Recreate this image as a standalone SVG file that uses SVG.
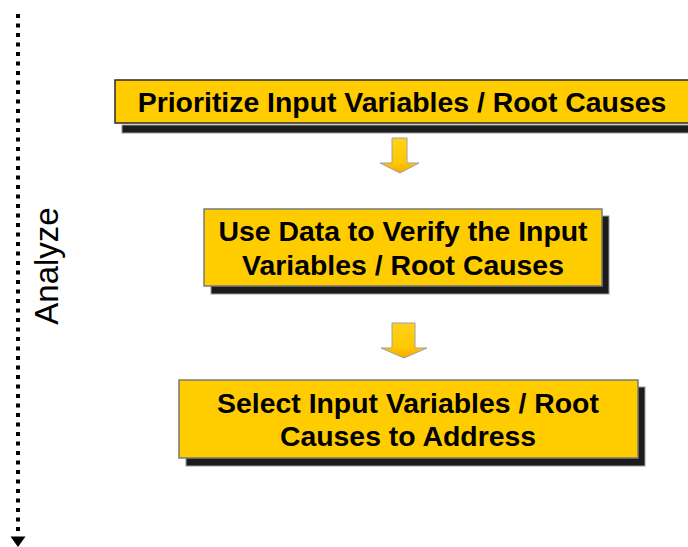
<svg xmlns="http://www.w3.org/2000/svg" width="688" height="547" viewBox="0 0 688 547">
  <defs>
    <linearGradient id="arrowFill" x1="0" y1="0" x2="0" y2="1">
      <stop offset="0" stop-color="#FFD21A"/>
      <stop offset="0.7" stop-color="#FFC800"/>
      <stop offset="1" stop-color="#F5A800"/>
    </linearGradient>
  </defs>
  <style>
    .shadow { fill: #1c1c1c; stroke: #9a9a9a; stroke-width: 1; }
    .box { fill: #FFCC00; stroke: #7a7a7a; stroke-width: 1.5; }
    .box1 { stroke: #2a2a2a; }
    .label { font-family: "Liberation Sans", Arial, sans-serif; font-weight: bold; font-size: 28.4px; fill: #000; text-anchor: middle; }
    .step { fill: url(#arrowFill); stroke: #a0a0a0; stroke-width: 1; }
    .phase { font-family: "Liberation Sans", Arial, sans-serif; font-size: 33px; fill: #000; text-anchor: middle; }
  </style>

  <rect width="688" height="547" fill="#fff"/>

  <!-- phase timeline -->
  <g id="timeline">
    <line x1="18" y1="14" x2="18" y2="532" stroke="#000" stroke-width="4" stroke-dasharray="4,5.5"/>
    <path d="M10.5,536.5 L25.5,536.5 L18,547 Z" fill="#000"/>
    <text class="phase" transform="translate(58,266) rotate(-90)">Analyze</text>
  </g>

  <!-- step 1 -->
  <g id="prioritize">
    <rect class="shadow" x="122" y="125" width="580" height="8"/>
    <rect class="box box1" x="115" y="80" width="590" height="43"/>
    <text class="label" x="402" y="112">Prioritize Input Variables / Root Causes</text>
  </g>

  <!-- step 2 -->
  <g id="verify">
    <rect class="shadow" x="211" y="216" width="398" height="78"/>
    <rect class="box" x="204" y="209" width="398" height="77"/>
    <text class="label" x="403" y="241">Use Data to Verify the Input</text>
    <text class="label" x="403" y="275">Variables / Root Causes</text>
  </g>

  <!-- step 3 -->
  <g id="select">
    <rect class="shadow" x="186" y="387" width="459" height="79"/>
    <rect class="box" x="179" y="380" width="459" height="78"/>
    <text class="label" x="408" y="413">Select Input Variables / Root</text>
    <text class="label" x="408" y="446">Causes to Address</text>
  </g>

  <!-- flow arrows between steps -->
  <g id="connectors">
    <path class="step" d="M392,138 L407,138 L407,163 L419,163 L400,173 L380,163 L392,163 Z"/>
    <path class="step" d="M392,323 L415,323 L415,348 L427,348 L404,358 L381,348 L392,348 Z"/>
  </g>
</svg>
